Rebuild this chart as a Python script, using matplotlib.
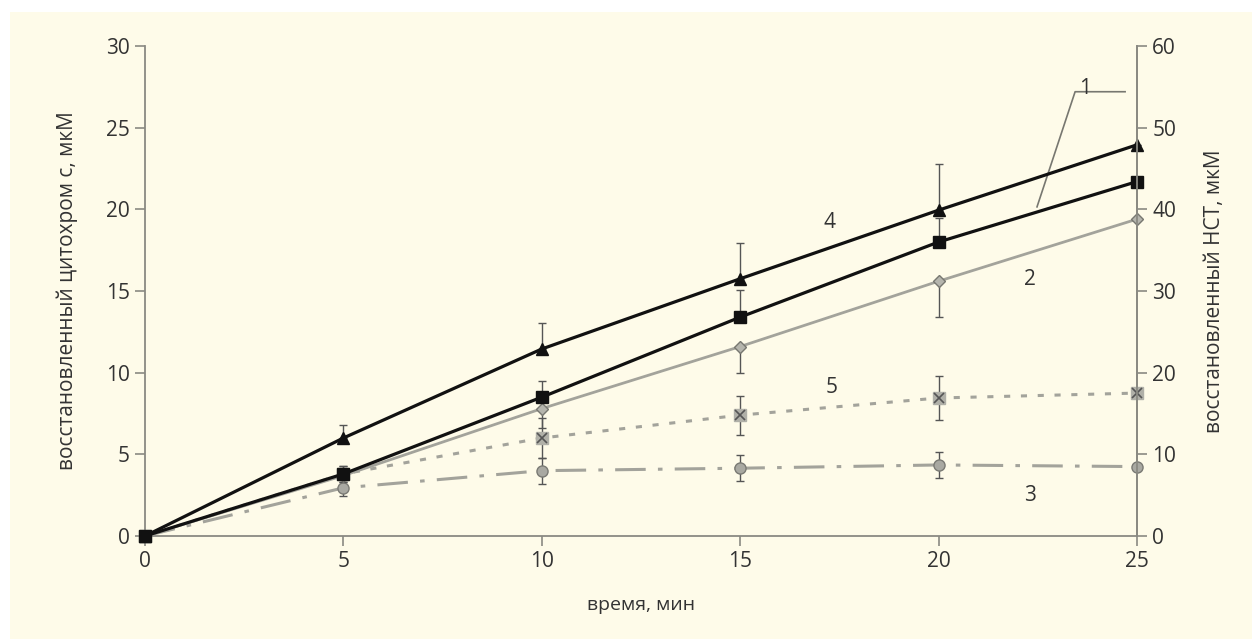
import matplotlib.pyplot as plt
from matplotlib.patches import Rectangle

plt.rcParams['font.family'] = ['Open Sans', 'DejaVu Sans']

t = [0, 5, 10, 15, 20, 25]

# left axis units (cytochrome c, uM); right axis is x2
s1 = [0, 3.8, 8.5, 13.4, 18.0, 21.7]
s2 = [0, 3.7, 7.8, 11.6, 15.6, 19.4]
s3 = [0, 2.95, 4.0, 4.15, 4.35, 4.25]
s4 = [0, 6.0, 11.45, 15.75, 19.95, 23.95]
s5 = [0, 3.8, 6.0, 7.4, 8.45, 8.75]

s1_err_up = [0, 0.5, 1.0, 1.65, 1.5, 0]
s2_err_dn = [0, 0.4, 1.2, 1.6, 2.2, 0]
s3_err = [0, 0.5, 0.8, 0.8, 0.8, 0]
s4_err_up = [0, 0.8, 1.6, 2.2, 2.85, 0]
s5_err = [0, 0.5, 1.2, 1.2, 1.35, 0]

cream = '#fefbe9'
grey = '#a3a39b'
axcol = '#8a8a82'
txt = '#333333'

fig = plt.figure(figsize=(12.52, 6.39), dpi=100, facecolor='white')
fig.patches.append(Rectangle((10 / 1252, 0), 1, 1 - 12 / 639, transform=fig.transFigure,
                             facecolor=cream, edgecolor='none', zorder=-10))
ax = fig.add_axes([145 / 1252, 1 - 536 / 639, (1137 - 145) / 1252, (536 - 46) / 639])
ax.set_facecolor('none')

ekw = dict(ecolor='#555555', elinewidth=1, capsize=3, capthick=1)

# 3 - dash-dot grey circles
ax.errorbar(t, s3, yerr=s3_err, color=grey, lw=2.2, dashes=(10, 4, 1.5, 4),
            marker='o', ms=8, mfc='#a9a9a2', mec='#7a7a74', **ekw, zorder=3)
# 5 - dotted grey, square with cross
ax.errorbar(t, s5, yerr=s5_err, color=grey, lw=2.2, dashes=(2, 3.5),
            marker='s', ms=9, mfc='#b0b0a8', mec='#b0b0a8', **ekw, zorder=3)
ax.plot(t, s5, linestyle='none', marker='x', ms=7, mew=1.2, color='#555555', zorder=4)
# 2 - grey solid diamonds
ax.errorbar(t, s2, yerr=[s2_err_dn, [0] * 6], color=grey, lw=2,
            marker='D', ms=6, mfc='#b5b5ad', mec='#777770', **ekw, zorder=4)
# 1 - black squares
ax.errorbar(t, s1, yerr=[[0] * 6, s1_err_up], color='#111111', lw=2.3,
            marker='s', ms=8, mfc='#111111', mec='#111111', **ekw, zorder=5)
# 4 - black triangles
ax.errorbar(t, s4, yerr=[[0] * 6, s4_err_up], color='#111111', lw=2.3,
            marker='^', ms=8, mfc='#111111', mec='#111111', **ekw, zorder=5)

for a in ax.lines + ax.collections:
    a.set_clip_on(False)

# curve labels
ax.text(23.7, 27.4, '1', fontsize=15, color=txt, ha='center', va='center')
ax.plot([24.7, 23.44, 22.48], [27.2, 27.2, 20.15], color='#777770', lw=1.2)
ax.text(22.3, 15.7, '2', fontsize=15, color=txt, ha='center', va='center')
ax.text(22.3, 2.5, '3', fontsize=15, color=txt, ha='center', va='center')
ax.text(17.26, 19.2, '4', fontsize=15, color=txt, ha='center', va='center')
ax.text(17.3, 9.1, '5', fontsize=15, color=txt, ha='center', va='center')

ax.set_xlim(0, 25)
ax.set_ylim(0, 30)
ax.set_xticks(t)
ax.set_yticks([0, 5, 10, 15, 20, 25, 30])
ax.spines['top'].set_visible(False)
for sp in ['left', 'right', 'bottom']:
    ax.spines[sp].set_color(axcol)
    ax.spines[sp].set_linewidth(1.3)
ax.tick_params(colors=axcol, labelcolor=txt, labelsize=15, length=7, width=1.2, pad=4)

ax2 = ax.twinx()
ax2.set_ylim(0, 60)
ax2.set_yticks([0, 10, 20, 30, 40, 50, 60])
ax2.spines['top'].set_visible(False)
ax2.spines['left'].set_visible(False)
ax2.spines['bottom'].set_visible(False)
ax2.spines['right'].set_color(axcol)
ax2.spines['right'].set_linewidth(1.3)
ax2.tick_params(colors=axcol, labelcolor=txt, labelsize=15, length=7, width=1.2, pad=4)

ax.set_xlabel('время, мин', fontsize=14, color=txt, labelpad=17)
ax.set_ylabel('восстановленный цитохром с, мкМ', fontsize=15, color=txt, labelpad=20)
ax2.set_ylabel('восстановленный НСТ, мкМ', fontsize=15, color=txt, labelpad=20)

fig.savefig('out.png', dpi=100, facecolor=fig.get_facecolor())
